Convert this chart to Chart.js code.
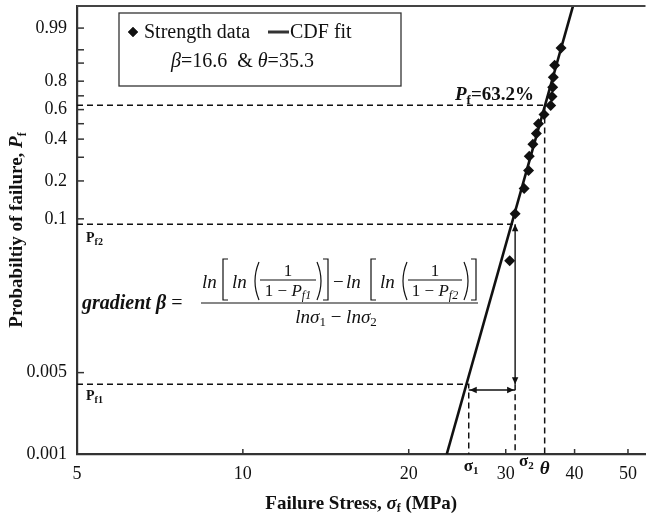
<!DOCTYPE html>
<html>
<head>
<meta charset="utf-8">
<script src="https://cdn.jsdelivr.net/npm/chart.js@4.4.1/dist/chart.umd.min.js"></script>
<style>
  html, body { margin: 0; padding: 0; background: #fff; overflow: hidden; }
  #frame { width: 646px; height: 517px; overflow: hidden; position: relative; }
  #wrap { width: 651px; height: 517px; position: relative; }
</style>
</head>
<body>
<div id="frame"><div id="wrap"><canvas id="weibull-chart"></canvas></div></div>
<script>
// strength data
const stressMPa = [30.5, 31.2, 32.4, 33.0, 33.1, 33.6, 34.1, 34.4, 35.2, 36.2, 36.4, 36.5, 36.6, 36.8, 37.8];
const probFailure = [0.045, 0.110, 0.175, 0.240, 0.305, 0.370, 0.435, 0.500, 0.565, 0.630, 0.695, 0.760, 0.825, 0.890, 0.955];

// CDF fit line (end points)
const fitStress = [23.45, 40.3];
const fitProb = [0.001, 0.99988];

// construction values
const theta = 35.3, pfTheta = 0.632;
const sigma1 = 25.7, sigma2 = 31.2;
const pf1 = 0.00397, pf2 = 0.0903, arrowProb = 0.00355;

// axes
const xTicks = [5, 10, 20, 30, 40, 50];
const yTicks = [0.001, 0.005, 0.1, 0.2, 0.3, 0.4, 0.5, 0.6, 0.7, 0.8, 0.9, 0.95, 0.99];
const yTickLabels = ['0.001', '0.005', '0.1', '0.2', '', '0.4', '', '0.6', '', '0.8', '', '', '0.99'];
const xMin = 5, xMax = 53.8, yMinP = 0.001, yMaxP = 0.9992;

// weibull probability axis
const weib = p => Math.log(-Math.log(1 - p));
const pt = (x, p) => ({x: x, y: weib(p)});

const SERIF = '"Liberation Serif", "DejaVu Serif", serif';
const INK = '#111';

function guide(pts, dashed, width) {
    return {
        data: pts.map(a => pt(a[0], a[1])),
        showLine: true,
        borderColor: INK,
        borderWidth: width || 1.5,
        borderDash: dashed ? [6, 4] : [],
        pointRadius: 0,
        tension: 0,
        order: 2
    };
}

// draw text made of several runs: [text, font, dy]
function runs(ctx, parts, x, y, align) {
    let w = 0;
    parts.forEach(p => { ctx.font = p[1]; w += ctx.measureText(p[0]).width; });
    let cx = align === 'center' ? x - w / 2 : (align === 'right' ? x - w : x);
    ctx.textAlign = 'left';
    ctx.textBaseline = 'alphabetic';
    parts.forEach(p => {
        ctx.font = p[1];
        ctx.fillText(p[0], cx, y + (p[2] || 0));
        cx += ctx.measureText(p[0]).width;
    });
}

function arrowHead(ctx, x, y, dir) {
    const L = 7, H = 3.2;
    ctx.beginPath();
    if (dir === 'up') { ctx.moveTo(x, y); ctx.lineTo(x - H, y + L); ctx.lineTo(x + H, y + L); }
    if (dir === 'down') { ctx.moveTo(x, y); ctx.lineTo(x - H, y - L); ctx.lineTo(x + H, y - L); }
    if (dir === 'left') { ctx.moveTo(x, y); ctx.lineTo(x + L, y - H); ctx.lineTo(x + L, y + H); }
    if (dir === 'right') { ctx.moveTo(x, y); ctx.lineTo(x - L, y - H); ctx.lineTo(x - L, y + H); }
    ctx.closePath();
    ctx.fill();
}

function sqBracket(ctx, x, top, bot, open) {
    const s = open ? 5 : -5;
    ctx.beginPath();
    ctx.moveTo(x + s, top); ctx.lineTo(x, top); ctx.lineTo(x, bot); ctx.lineTo(x + s, bot);
    ctx.stroke();
}

function paren(ctx, x, top, bot, open) {
    const d = open ? -8 : 8;
    ctx.beginPath();
    ctx.moveTo(x, top);
    ctx.quadraticCurveTo(x + d, (top + bot) / 2, x, bot);
    ctx.stroke();
}

const it = s => 'italic ' + s + 'px ' + SERIF;
const rg = s => s + 'px ' + SERIF;
const bd = s => 'bold ' + s + 'px ' + SERIF;
const bi = s => 'bold italic ' + s + 'px ' + SERIF;

const decorations = {
    id: 'decorations',
    afterDraw(chart) {
        const ctx = chart.ctx;
        const xs = chart.scales.x, ys = chart.scales.y;
        const area = chart.chartArea;
        ctx.save();

        // top frame line
        ctx.strokeStyle = '#444';
        ctx.lineWidth = 2;
        ctx.beginPath();
        ctx.moveTo(area.left, area.top);
        ctx.lineTo(area.right, area.top);
        ctx.stroke();

        // inside tick marks
        ctx.strokeStyle = '#333';
        ctx.lineWidth = 1.5;
        yTicks.forEach(p => {
            if (p === yMinP) return;
            const py = ys.getPixelForValue(weib(p));
            ctx.beginPath(); ctx.moveTo(area.left, py); ctx.lineTo(area.left + 7, py); ctx.stroke();
        });
        xTicks.forEach(v => {
            if (v === xMin) return;
            const px = xs.getPixelForValue(v);
            ctx.beginPath(); ctx.moveTo(px, area.bottom); ctx.lineTo(px, area.bottom - 5); ctx.stroke();
        });

        // arrow heads
        ctx.fillStyle = INK;
        const s1 = xs.getPixelForValue(sigma1), s2 = xs.getPixelForValue(sigma2);
        arrowHead(ctx, s2, ys.getPixelForValue(weib(pf2)), 'up');
        arrowHead(ctx, s2, ys.getPixelForValue(weib(pf1)), 'down');
        const ay = ys.getPixelForValue(weib(arrowProb));
        arrowHead(ctx, s1 + 1, ay, 'left');
        arrowHead(ctx, s2 - 1, ay, 'right');

        // labels
        ctx.fillStyle = INK;
        runs(ctx, [['P', bi(19)], ['f', bd(13), 4], ['=63.2%', bd(19)]], 455, 100);
        runs(ctx, [['P', bd(14)], ['f2', bd(10), 3]], 86, 242);
        runs(ctx, [['P', bd(14)], ['f1', bd(10), 3]], 86, 400);
        runs(ctx, [['σ', bd(17)], ['1', bd(11), 3]], s1 - 5, 471);
        runs(ctx, [['σ', bd(17)], ['2', bd(11), 3]], s2 + 4, 466);
        runs(ctx, [['θ', bi(19)]], xs.getPixelForValue(theta), 474, 'center');

        // gradient formula
        runs(ctx, [['gradient β', bi(20)], [' =', rg(20)]], 82, 309);
        ctx.strokeStyle = INK;
        ctx.lineWidth = 1.2;
        const nb = 288;
        runs(ctx, [['ln', it(19)]], 202, nb);
        sqBracket(ctx, 223, 259, 300, true);
        runs(ctx, [['ln', it(19)]], 232, nb);
        paren(ctx, 259, 262, 300, true);
        runs(ctx, [['1', rg(17)]], 288, 276, 'center');
        ctx.beginPath(); ctx.moveTo(260, 280); ctx.lineTo(316, 280); ctx.stroke();
        runs(ctx, [['1 − ', rg(17)], ['P', it(17)], ['f1', it(12), 3]], 288, 296, 'center');
        paren(ctx, 317, 262, 300, false);
        sqBracket(ctx, 328, 259, 300, false);
        runs(ctx, [['−', rg(19)]], 333, nb);
        runs(ctx, [['ln', it(19)]], 346, nb);
        sqBracket(ctx, 371, 259, 300, true);
        runs(ctx, [['ln', it(19)]], 380, nb);
        paren(ctx, 407, 262, 300, true);
        runs(ctx, [['1', rg(17)]], 435, 276, 'center');
        ctx.beginPath(); ctx.moveTo(408, 280); ctx.lineTo(462, 280); ctx.stroke();
        runs(ctx, [['1 − ', rg(17)], ['P', it(17)], ['f2', it(12), 3]], 435, 296, 'center');
        paren(ctx, 464, 262, 300, false);
        sqBracket(ctx, 476, 259, 300, false);
        ctx.beginPath(); ctx.moveTo(201, 303); ctx.lineTo(478, 303); ctx.stroke();
        runs(ctx, [['lnσ', it(19)], ['1', rg(13), 3], [' − ', rg(19)], ['lnσ', it(19)], ['2', rg(13), 3]], 336, 323, 'center');

        // legend box
        ctx.fillStyle = '#fff';
        ctx.fillRect(119, 13, 282, 73);
        ctx.strokeStyle = '#333';
        ctx.lineWidth = 1.3;
        ctx.strokeRect(119, 13, 282, 73);
        ctx.fillStyle = INK;
        const d0 = chart.data.datasets[0];
        Chart.helpers.drawPoint(ctx, {pointStyle: d0.pointStyle, radius: 5, borderWidth: 0}, 133, 32);
        ctx.fill();
        runs(ctx, [[d0.label, rg(20)]], 144, 38);
        ctx.lineWidth = 3;
        ctx.beginPath(); ctx.moveTo(268, 32); ctx.lineTo(289, 32); ctx.stroke();
        runs(ctx, [[chart.data.datasets[1].label, rg(20)]], 290, 38);
        runs(ctx, [['β', it(20)], ['=16.6  & ', rg(20)], ['θ', it(20)], ['=35.3', rg(20)]], 171, 67);

        // axis titles
        runs(ctx, [['Failure Stress, ', bd(19)], ['σ', bi(19)], ['f', bd(12), 3], [' (MPa)', bd(19)]],
            (area.left + area.right) / 2, 509, 'center');
        ctx.translate(22, (area.top + area.bottom) / 2);
        ctx.rotate(-Math.PI / 2);
        runs(ctx, [['Probabiltiy of failure, ', bd(19)], ['P', bi(19)], ['f', bd(12), 4]], 0, 0, 'center');

        ctx.restore();
    }
};

new Chart(document.getElementById('weibull-chart'), {
    type: 'scatter',
    data: {
        datasets: [
            {
                label: 'Strength data',
                data: stressMPa.map((s, i) => pt(s, probFailure[i])),
                pointStyle: 'rectRot',
                pointRadius: 5.5,
                pointBackgroundColor: INK,
                pointBorderColor: INK,
                pointBorderWidth: 0,
                order: 0
            },
            {
                label: 'CDF fit',
                data: fitStress.map((s, i) => pt(s, fitProb[i])),
                showLine: true,
                borderColor: INK,
                borderWidth: 2.6,
                pointRadius: 0,
                order: 1
            },
            guide([[xMin, pfTheta], [theta, pfTheta], [theta, yMinP]], true),
            guide([[xMin, pf2], [sigma2, pf2]], true),
            guide([[sigma2, pf1], [sigma2, yMinP]], true),
            guide([[xMin, pf1], [sigma1, pf1], [sigma1, yMinP]], true),
            guide([[sigma2, pf2], [sigma2, pf1]], false, 1.4),
            guide([[sigma1, arrowProb], [sigma2, arrowProb]], false, 1.4)
        ]
    },
    options: {
        responsive: true,
        maintainAspectRatio: false,
        animation: false,
        devicePixelRatio: 1,
        layout: { padding: { top: 6, left: 0, right: 0, bottom: 0 } },
        plugins: { legend: { display: false }, tooltip: { enabled: false } },
        scales: {
            x: {
                type: 'logarithmic',
                min: xMin,
                max: xMax,
                afterBuildTicks: s => { s.ticks = xTicks.map(v => ({value: v})); },
                afterFit: s => { s.height = 63; s.paddingLeft = 0; s.paddingRight = 0; },
                grid: { display: false, drawTicks: false },
                border: { display: true, color: '#333', width: 2.2 },
                ticks: {
                    autoSkip: false, maxRotation: 0, padding: 9,
                    color: INK, font: { family: SERIF, size: 18 },
                    callback: v => String(v)
                }
            },
            y: {
                type: 'linear',
                min: weib(yMinP),
                max: weib(yMaxP),
                afterBuildTicks: s => { s.ticks = yTicks.map(p => ({value: weib(p)})); },
                afterFit: s => { s.width = 77; s.paddingTop = 0; s.paddingBottom = 0; },
                grid: { display: false, drawTicks: false },
                border: { display: true, color: '#333', width: 2.2 },
                ticks: {
                    autoSkip: false, padding: 10,
                    color: INK, font: { family: SERIF, size: 18 },
                    callback: (v, i) => yTickLabels[i]
                }
            }
        }
    },
    plugins: [decorations]
});
</script>
</body>
</html>
